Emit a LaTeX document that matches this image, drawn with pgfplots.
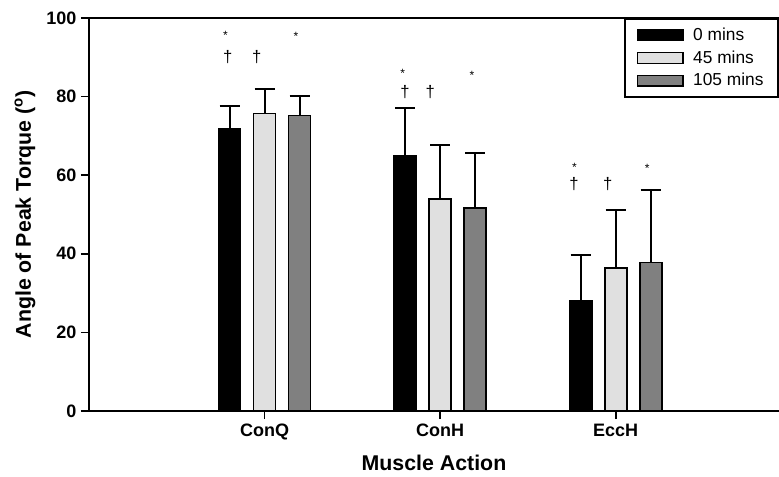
\documentclass[border=0pt]{standalone}
\usepackage{pgfplots}
\pgfplotsset{compat=1.18}
\usepackage{fontspec}
\setmainfont{Liberation Sans}
\definecolor{lightbar}{HTML}{E0E0E0}
\definecolor{graybar}{HTML}{808080}

\pgfplotstableread{
x y e
1 71.7 6.0
2 65.0 12.0
3 28.0 11.6
}\zero
\pgfplotstableread{
x y e
1 75.7 6.3
2 54.0 13.6
3 36.4 14.7
}\fortyfive
\pgfplotstableread{
x y e
1 75.2 5.0
2 51.7 14.0
3 37.8 18.4
}\onefive

\begin{document}
\begin{tikzpicture}
\useasboundingbox (0,0) rectangle (584.25pt,357pt);
\begin{axis}[
  at={(66.75pt,48.75pt)}, anchor=south west,
  scale only axis, width=517.5pt, height=294.75pt,
  xmin=0, xmax=3.93, ymin=0, ymax=100,
  axis x line*=box, axis y line*=left,
  axis line style={line width=1.2pt, -},
  ytick={0,20,...,100},
  xtick={1,2,3}, xticklabels={ConQ,ConH,EccH},
  xtick pos=bottom, ytick pos=left,
  tick align=outside,
  major tick length=6pt,
  tick style={line width=1.2pt, black},
  tick label style={font=\bfseries\fontsize{13.5}{14}\selectfont},
  /pgf/number format/assume math mode=true,
  every axis y label/.style={at={(axis description cs:-0.0928,0.5)}, rotate=90, anchor=center},
  every axis x label/.style={at={(axis description cs:0.5,-0.132)}, anchor=center},
  xlabel={Muscle Action},
  ylabel={Angle of Peak Torque (\textsuperscript{o})},
  label style={font=\bfseries\fontsize{16}{17}\selectfont},
  ybar, bar width=16.5pt,
  legend style={at={(1,1)}, anchor=north east, draw=black, line width=1.2pt,
    font=\fontsize{13}{14}\selectfont, inner xsep=9pt, inner ysep=5pt,
    row sep=2pt},
  legend cell align=left,
  legend image code/.code={\draw[#1, line width=1pt] (0pt,-4pt) rectangle (34pt,4pt); \path (39pt,0pt);},
]
\addplot[fill=black, draw=black, line width=1.2pt, bar shift=-26.25pt,
  error bars/.cd, y dir=plus, y explicit,
  error bar style={line width=1.4pt, black},
  error mark options={rotate=90, line width=1.4pt, mark size=7.5pt, black}]
  table[x=x, y=y, y error=e] {\zero};
\addlegendentry{0 mins}
\addplot[fill=lightbar, draw=black, line width=1.2pt, bar shift=0pt,
  error bars/.cd, y dir=plus, y explicit,
  error bar style={line width=1.4pt, black},
  error mark options={rotate=90, line width=1.4pt, mark size=7.5pt, black}]
  table[x=x, y=y, y error=e] {\fortyfive};
\addlegendentry{45 mins}
\addplot[fill=graybar, draw=black, line width=1.2pt, bar shift=26.25pt,
  error bars/.cd, y dir=plus, y explicit,
  error bar style={line width=1.4pt, black},
  error mark options={rotate=90, line width=1.4pt, mark size=7.5pt, black}]
  table[x=x, y=y, y error=e] {\onefive};
\addlegendentry{105 mins}
% significance markers
\node[font=\fontsize{9}{9}\selectfont] at (axis cs:0.777,95.5) {*};
\node[font=\fontsize{12.5}{12.5}\selectfont] at (axis cs:0.790,90) {†};
\node[font=\fontsize{12.5}{12.5}\selectfont] at (axis cs:0.956,90) {†};
\node[font=\fontsize{9}{9}\selectfont] at (axis cs:1.179,95.2) {*};
\node[font=\fontsize{9}{9}\selectfont] at (axis cs:1.787,85.8) {*};
\node[font=\fontsize{12.5}{12.5}\selectfont] at (axis cs:1.800,81.2) {†};
\node[font=\fontsize{12.5}{12.5}\selectfont] at (axis cs:1.943,81.2) {†};
\node[font=\fontsize{9}{9}\selectfont] at (axis cs:2.181,85.3) {*};
\node[font=\fontsize{9}{9}\selectfont] at (axis cs:2.765,62.0) {*};
\node[font=\fontsize{12.5}{12.5}\selectfont] at (axis cs:2.762,57.7) {†};
\node[font=\fontsize{12.5}{12.5}\selectfont] at (axis cs:2.955,57.7) {†};
\node[font=\fontsize{9}{9}\selectfont] at (axis cs:3.179,61.7) {*};
\end{axis}
\end{tikzpicture}
\end{document}
